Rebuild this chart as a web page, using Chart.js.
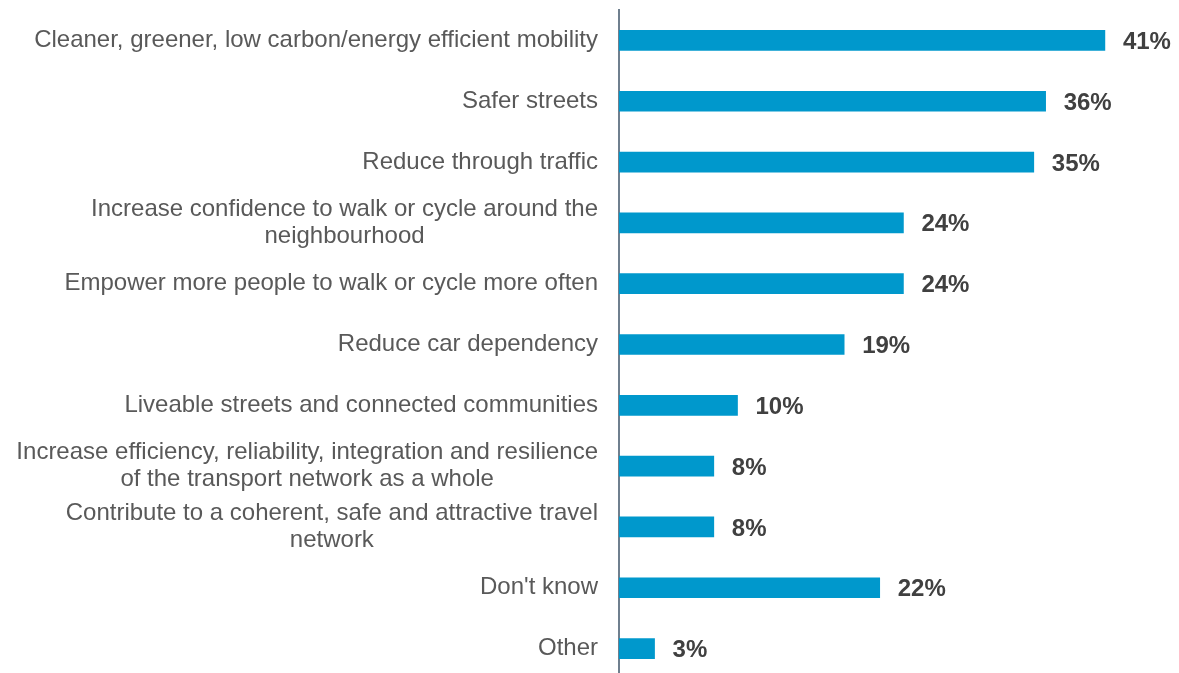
<!DOCTYPE html>
<html>
<head>
<meta charset="utf-8">
<script src="https://cdn.jsdelivr.net/npm/chart.js@4/dist/chart.umd.min.js"></script>
<style>
  html, body { margin: 0; padding: 0; background: #ffffff; overflow: hidden; }
  #wrap { width: 1179px; height: 673px; overflow: hidden; }
</style>
</head>
<body>
<div id="wrap"><canvas id="benefitsChart" width="1179" height="679"></canvas></div>
<script>
const categories = [
  ['Cleaner, greener, low carbon/energy efficient mobility'],
  ['Safer streets'],
  ['Reduce through traffic'],
  ['Increase confidence to walk or cycle around the', 'neighbourhood'],
  ['Empower more people to walk or cycle more often'],
  ['Reduce car dependency'],
  ['Liveable streets and connected communities'],
  ['Increase efficiency, reliability, integration and resilience', 'of the transport network as a whole'],
  ['Contribute to a coherent, safe and attractive travel', 'network'],
  ["Don't know"],
  ['Other']
];
const shares = [41, 36, 35, 24, 24, 19, 10, 8, 8, 22, 3];

const barColor = '#0098CC';
const labelColor = '#595959';
const valueColor = '#404040';
const fontFamily = '"Liberation Sans", Arial, sans-serif';

// category names are drawn by hand so wrapped lines centre on each other
const categoryLabels = {
  id: 'categoryLabels',
  afterDraw(chart) {
    const { ctx, scales } = chart;
    const yScale = scales.y;
    const rightEdge = chart.chartArea.left - 21;
    const lineHeight = 27;
    ctx.save();
    ctx.font = `24px ${fontFamily}`;
    ctx.fillStyle = labelColor;
    ctx.textAlign = 'center';
    ctx.textBaseline = 'middle';
    categories.forEach((lines, i) => {
      const center = yScale.getPixelForValue(i);
      const widest = Math.max(...lines.map((line) => ctx.measureText(line).width));
      const x = rightEdge - widest / 2;
      const top = center - ((lines.length - 1) * lineHeight) / 2;
      lines.forEach((line, j) => ctx.fillText(line, x, top + j * lineHeight));
    });
    ctx.restore();
  }
};

const valueLabels = {
  id: 'valueLabels',
  afterDatasetsDraw(chart) {
    const { ctx } = chart;
    const meta = chart.getDatasetMeta(0);
    ctx.save();
    ctx.font = `bold 24px ${fontFamily}`;
    ctx.fillStyle = valueColor;
    ctx.textAlign = 'left';
    ctx.textBaseline = 'middle';
    meta.data.forEach((bar, i) => {
      ctx.fillText(`${shares[i]}%`, bar.x + 18, bar.y + 2);
    });
    ctx.restore();
  }
};

new Chart(document.getElementById('benefitsChart'), {
  type: 'bar',
  plugins: [categoryLabels, valueLabels],
  data: {
    labels: categories.map((lines) => lines.join(' ')),
    datasets: [{
      data: shares,
      backgroundColor: barColor,
      borderWidth: 0,
      barThickness: 20
    }]
  },
  options: {
    indexAxis: 'y',
    responsive: false,
    animation: false,
    layout: { padding: { top: 10, right: 3, bottom: 0, left: 0 } },
    plugins: {
      legend: { display: false },
      tooltip: { enabled: false }
    },
    scales: {
      x: {
        display: false,
        min: 0,
        max: 47
      },
      y: {
        afterFit(scale) { scale.width = 619; },
        ticks: { display: false },
        grid: { display: false, drawTicks: false },
        border: { display: true, color: '#6F7F8E', width: 2 }
      }
    }
  }
});
</script>
</body>
</html>
